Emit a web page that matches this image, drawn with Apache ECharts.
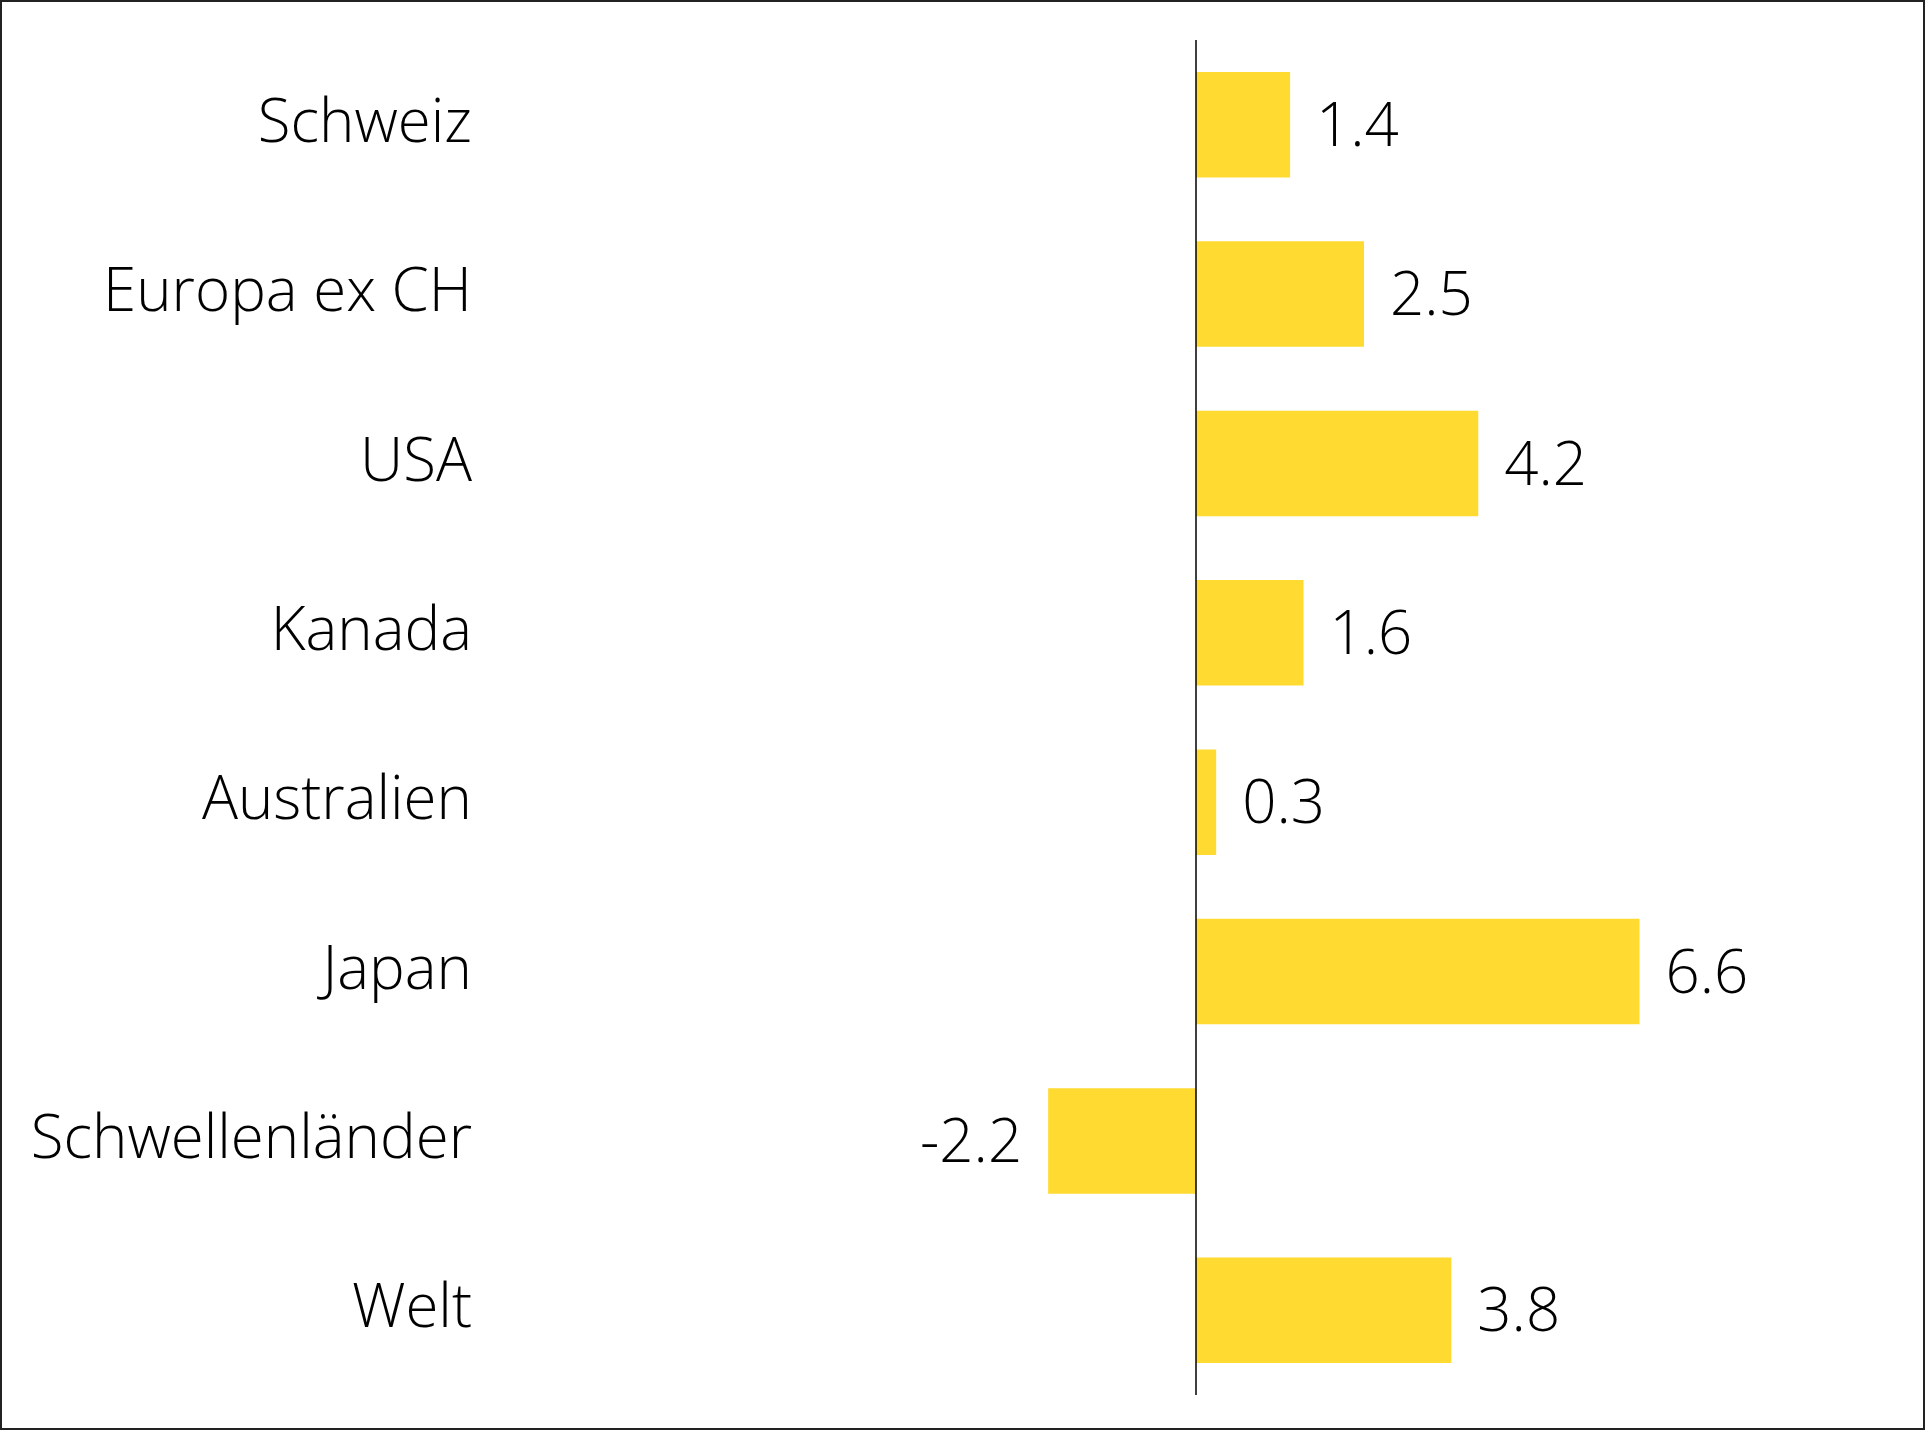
<!DOCTYPE html>
<html>
<head>
<meta charset="utf-8">
<script src="https://cdn.jsdelivr.net/npm/echarts@6/dist/echarts.min.js"></script>
<style>
  html, body { margin: 0; padding: 0; background: #fff; }
  #chart { position: absolute; left: 0; top: 0; width: 1925px; height: 1430px; }
  #frame { position: absolute; left: 0; top: 0; width: 1925px; height: 1430px; box-sizing: border-box; border: 2px solid #222; pointer-events: none; }
</style>
</head>
<body>
<div id="chart"></div>
<div id="frame"></div>
<script>
const categories = ['Schweiz', 'Europa ex CH', 'USA', 'Kanada', 'Australien', 'Japan', 'Schwellenländer', 'Welt'];
const values = [1.4, 2.5, 4.2, 1.6, 0.3, 6.6, -2.2, 3.8];

const FONT = '"Open Sans", "Noto Sans", sans-serif';
const chart = echarts.init(document.getElementById('chart'), null, { renderer: 'canvas' });
chart.setOption({
  animation: false,
  backgroundColor: '#ffffff',
  grid: { left: 524, right: 57, top: 40, bottom: 35, containLabel: false },
  xAxis: {
    type: 'value', min: -10, max: 10,
    axisLine: { show: false }, axisTick: { show: false },
    axisLabel: { show: false }, splitLine: { show: false }
  },
  yAxis: {
    type: 'category', data: categories, inverse: true,
    axisLine: { show: false }, axisTick: { show: false }, splitLine: { show: false },
    axisLabel: { margin: 52, fontSize: 60, color: '#000', fontFamily: FONT, fontWeight: 300, padding: [3, 0, 0, 0] }
  },
  series: [{
    type: 'bar',
    barCategoryGap: '37.7%',
    itemStyle: { color: '#FFDA30' },
    data: values.map(v => ({
      value: v,
      label: { position: v < 0 ? 'left' : 'right' }
    })),
    label: {
      show: true, distance: 26, fontSize: 60, color: '#000', fontFamily: FONT, fontWeight: 300,
      offset: [0, 4],
      formatter: p => p.value.toFixed(1)
    },
    markLine: {
      silent: true, symbol: 'none', animation: false,
      label: { show: false },
      lineStyle: { color: '#000', width: 1.5, type: 'solid' },
      data: [{ xAxis: 0 }]
    }
  }]
});
</script>
</body>
</html>
